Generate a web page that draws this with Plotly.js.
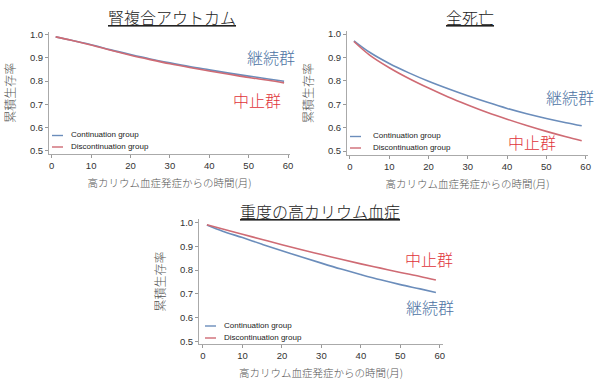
<!DOCTYPE html>
<html>
<head>
<meta charset="utf-8">
<script src="https://cdn.plot.ly/plotly-3.0.1.min.js"></script>
<style>html,body{margin:0;padding:0;background:#fff;}#chart{width:600px;height:388px;}</style>
</head>
<body>
<div id="chart"></div>
<script>
// ---- data ----
const panelTitles = ['腎複合アウトカム', '全死亡', '重度の高カリウム血症'];
const yTitle = '累積生存率';
const xTitle = '高カリウム血症発症からの時間(月)';
const seriesNames = ['Continuation group', 'Discontinuation group'];
const groupLabels = ['継続群', '中止群'];

const monthsA = [1, 5, 10, 15, 20, 25, 30, 35, 40, 45, 50, 55, 59];
const renalCont =    [0.990, 0.975, 0.956, 0.934, 0.914, 0.895, 0.878, 0.862, 0.848, 0.834, 0.821, 0.809, 0.799];
const renalDisc =    [0.990, 0.975, 0.955, 0.932, 0.911, 0.892, 0.874, 0.858, 0.843, 0.829, 0.815, 0.803, 0.792];
const deathCont =    [0.971, 0.922, 0.874, 0.834, 0.798, 0.766, 0.736, 0.708, 0.682, 0.659, 0.639, 0.621, 0.608];
const deathDisc =    [0.968, 0.910, 0.856, 0.810, 0.769, 0.731, 0.697, 0.665, 0.636, 0.609, 0.584, 0.561, 0.544];
const hyperkCont =   [0.989, 0.963, 0.936, 0.908, 0.881, 0.855, 0.829, 0.804, 0.781, 0.759, 0.739, 0.721, 0.706];
const hyperkDisc =   [0.990, 0.972, 0.950, 0.928, 0.906, 0.885, 0.865, 0.845, 0.826, 0.808, 0.790, 0.773, 0.758];

const xTicks = [0, 10, 20, 30, 40, 50, 60];
const yTicks = [0.5, 0.6, 0.7, 0.8, 0.9, 1.0];

// ---- styling ----
const W = 600, H = 388;
const lineBlue = '#6b8dbb', lineRed = '#cf6b74';
const textBlue = '#4c72a3', textRed = '#e0323a';
const cjk = '"Noto Sans CJK JP", "Noto Sans", sans-serif';
const latin = '"Liberation Sans", Arial, sans-serif';

const panels = [
  {cont: renalCont, disc: renalDisc, xa: 'x', ya: 'y',
   xdom: [49, 290], ydom: [154, 31.5], xr: [-0.7, 60.5], yr: [0.486, 1.013],
   title: [172, 17], lab: [[271, 57], [257, 100]],
   leg: {lx: 52, tx: 69, y: [135.5, 147]}},
  {cont: deathCont, disc: deathDisc, xa: 'x2', ya: 'y2',
   xdom: [347, 588], ydom: [155, 31], xr: [-0.76, 60.6], yr: [0.483, 1.013],
   title: [470, 17], lab: [[570, 97], [532, 142]],
   leg: {lx: 350, tx: 371, y: [136.5, 148]}},
  {cont: hyperkCont, disc: hyperkDisc, xa: 'x3', ya: 'y3',
   xdom: [199, 443], ydom: [344, 219], xr: [-1.0, 60.8], yr: [0.490, 1.014],
   title: [320, 211], lab: [[430, 307], [429, 259]],
   leg: {lx: 205, tx: 222, y: [326, 338]}}
];

const px = v => v / W;
const py = v => 1 - v / H;

const traces = [];
const layout = {
  width: W, height: H,
  margin: {l: 0, r: 0, t: 0, b: 0},
  paper_bgcolor: '#fff', plot_bgcolor: '#fff',
  showlegend: false,
  annotations: [], shapes: []
};

panels.forEach((p, i) => {
  traces.push({x: monthsA, y: p.cont, xaxis: p.xa, yaxis: p.ya, name: seriesNames[0],
    type: 'scatter', mode: 'lines', line: {color: lineBlue, width: 1.6, shape: 'spline', smoothing: 1}});
  traces.push({x: monthsA, y: p.disc, xaxis: p.xa, yaxis: p.ya, name: seriesNames[1],
    type: 'scatter', mode: 'lines', line: {color: lineRed, width: 1.6, shape: 'spline', smoothing: 1}});

  const suffix = i === 0 ? '' : String(i + 1);
  layout['xaxis' + suffix] = {
    domain: [px(p.xdom[0]), px(p.xdom[1])], range: p.xr, anchor: p.ya,
    tickvals: xTicks, ticks: 'outside', ticklen: 3, tickcolor: '#999',
    showline: true, linecolor: '#aaa', linewidth: 1, showgrid: false, zeroline: false,
    tickfont: {family: latin, size: 9.5, color: '#333'},
    title: {text: xTitle, font: {family: cjk, size: 10.5, color: '#555', weight: 300}, standoff: 9}
  };
  layout['yaxis' + suffix] = {
    domain: [py(p.ydom[0]), py(p.ydom[1])], range: p.yr, anchor: p.xa,
    tickvals: yTicks, tickformat: '.1f', ticks: 'outside', ticklen: 3, tickcolor: '#999',
    showline: true, linecolor: '#aaa', linewidth: 1, showgrid: false, zeroline: false,
    tickfont: {family: latin, size: 9.5, color: '#333'},
    title: {text: yTitle, font: {family: cjk, size: 12, color: '#555', weight: 300}, standoff: 11}
  };

  // panel title (underlined)
  layout.annotations.push({
    xref: 'paper', yref: 'paper', x: px(p.title[0]), y: py(p.title[1]),
    xanchor: 'center', yanchor: 'middle', showarrow: false,
    text: '<u>' + panelTitles[i] + '</u>', font: {family: cjk, size: 16, color: '#222', weight: 300}
  });
  // group labels
  [textBlue, textRed].forEach((c, k) => {
    layout.annotations.push({
      xref: 'paper', yref: 'paper', x: px(p.lab[k][0]), y: py(p.lab[k][1]),
      xanchor: 'center', yanchor: 'middle', showarrow: false,
      text: groupLabels[k], font: {family: cjk, size: 16, color: c, weight: 300}
    });
  });
  // legend entries
  [lineBlue, lineRed].forEach((c, k) => {
    layout.shapes.push({type: 'line', xref: 'paper', yref: 'paper',
      x0: px(p.leg.lx), x1: px(p.leg.lx + 11), y0: py(p.leg.y[k]), y1: py(p.leg.y[k]),
      line: {color: c, width: 1.4}});
    layout.annotations.push({
      xref: 'paper', yref: 'paper', x: px(p.leg.tx), y: py(p.leg.y[k] - 1),
      xanchor: 'left', yanchor: 'middle', showarrow: false,
      text: seriesNames[k], font: {family: latin, size: 8, color: '#222'}
    });
  });
});

Plotly.newPlot('chart', traces, layout, {staticPlot: true, displayModeBar: false});
</script>
</body>
</html>
